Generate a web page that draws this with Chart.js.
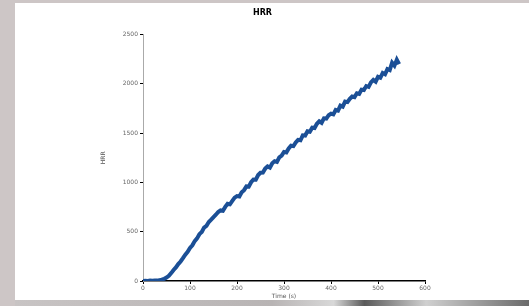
<!DOCTYPE html>
<html>
<head>
<meta charset="utf-8">
<script src="https://cdn.jsdelivr.net/npm/chart.js@4"></script>
<style>
  html, body { margin: 0; padding: 0; }
  body { width: 529px; height: 306px; background: #cdc6c6; position: relative; overflow: hidden; }
  #panel { position: absolute; left: 15px; top: 3px; width: 514px; height: 297px; background: #fff; }
  #bottom { position: absolute; left: 15px; top: 300px; width: 514px; height: 6px;
    background: linear-gradient(to right, #c8c4c4 0%, #b8b4b4 50%, #d8d8d8 62%, #5a5a5a 68%, #d0d0d0 80%, #6a6a6a 100%); }
</style>
</head>
<body>
<div id="panel"><canvas id="hrrChart" width="514" height="297"></canvas></div>
<div id="bottom"></div>
<script>
var chartTitle = 'HRR';
var xLabel = 'Time (s)';
var yLabel = 'HRR';
var xTicks = [0, 100, 200, 300, 400, 500, 600];
var yTicks = [0, 500, 1000, 1500, 2000, 2500];

// time (s), every 5 s
var times = [];
for (var t = 0; t <= 545; t += 5) times.push(t);

// HRR values
var hrr = [
  0, 3, 1, 4, 2, 5, 4, 9, 13, 22,
  34, 52, 80, 112, 138, 172, 198, 232, 268, 296,
  335, 362, 405, 432, 475, 498, 542, 560, 598, 622,
  648, 672, 700, 716, 712, 752, 784, 778, 812, 846,
  862, 858, 900, 922, 960, 958, 1002, 1030, 1028, 1075,
  1098, 1100, 1140, 1162, 1150, 1195, 1215, 1208, 1255, 1272,
  1310, 1305, 1345, 1372, 1368, 1405, 1432, 1428, 1478, 1476,
  1520, 1515, 1555, 1552, 1595, 1620, 1605, 1650, 1648, 1682,
  1698, 1690, 1735, 1728, 1780, 1770, 1820, 1815, 1848, 1872,
  1866, 1905, 1898, 1942, 1938, 1978, 1970, 2015, 2040, 2022,
  2072, 2062, 2110, 2098, 2150, 2140, 2215, 2185, 2245, 2200
];

var points = times.map(function(t, i) { return { x: t, y: hrr[i] }; });

var tickFont = { family: 'DejaVu Sans', size: 6 };
var plain = function(v) { return String(v); };

new Chart(document.getElementById('hrrChart'), {
  type: 'line',
  data: {
    datasets: [{
      label: chartTitle,
      data: points,
      borderColor: '#1b4f96',
      borderWidth: 4,
      pointRadius: 0,
      tension: 0,
      fill: false
    }]
  },
  options: {
    responsive: false,
    animation: false,
    layout: { padding: { left: 85, right: 104, top: 0, bottom: 0 } },
    plugins: {
      legend: { display: false },
      tooltip: { enabled: false },
      title: {
        display: true,
        text: chartTitle,
        color: '#000',
        font: { family: 'DejaVu Sans', size: 8, weight: 'bold' },
        padding: { top: 5, bottom: 17 }
      }
    },
    scales: {
      x: {
        type: 'linear',
        min: 0,
        max: 600,
        afterBuildTicks: function(s) { s.ticks = xTicks.map(function(v) { return { value: v }; }); },
        afterFit: function(s) { s.height = 19; },
        border: { color: '#000', width: 1.5 },
        grid: { drawOnChartArea: false, tickLength: 3, color: '#000' },
        ticks: { color: '#666', font: tickFont, padding: 1, maxRotation: 0, callback: plain },
        title: { display: true, text: xLabel, color: '#555', font: tickFont, padding: 0 }
      },
      y: {
        min: 0,
        max: 2500,
        afterBuildTicks: function(s) { s.ticks = yTicks.map(function(v) { return { value: v }; }); },
        afterFit: function(s) { s.width = 43; },
        border: { color: '#aaa', width: 1 },
        grid: { drawOnChartArea: false, tickLength: 3, color: '#000' },
        ticks: { color: '#666', font: tickFont, padding: 2, callback: plain },
        title: { display: true, text: yLabel, color: '#555', font: tickFont, padding: 0 }
      }
    }
  }
});
</script>
</body>
</html>
